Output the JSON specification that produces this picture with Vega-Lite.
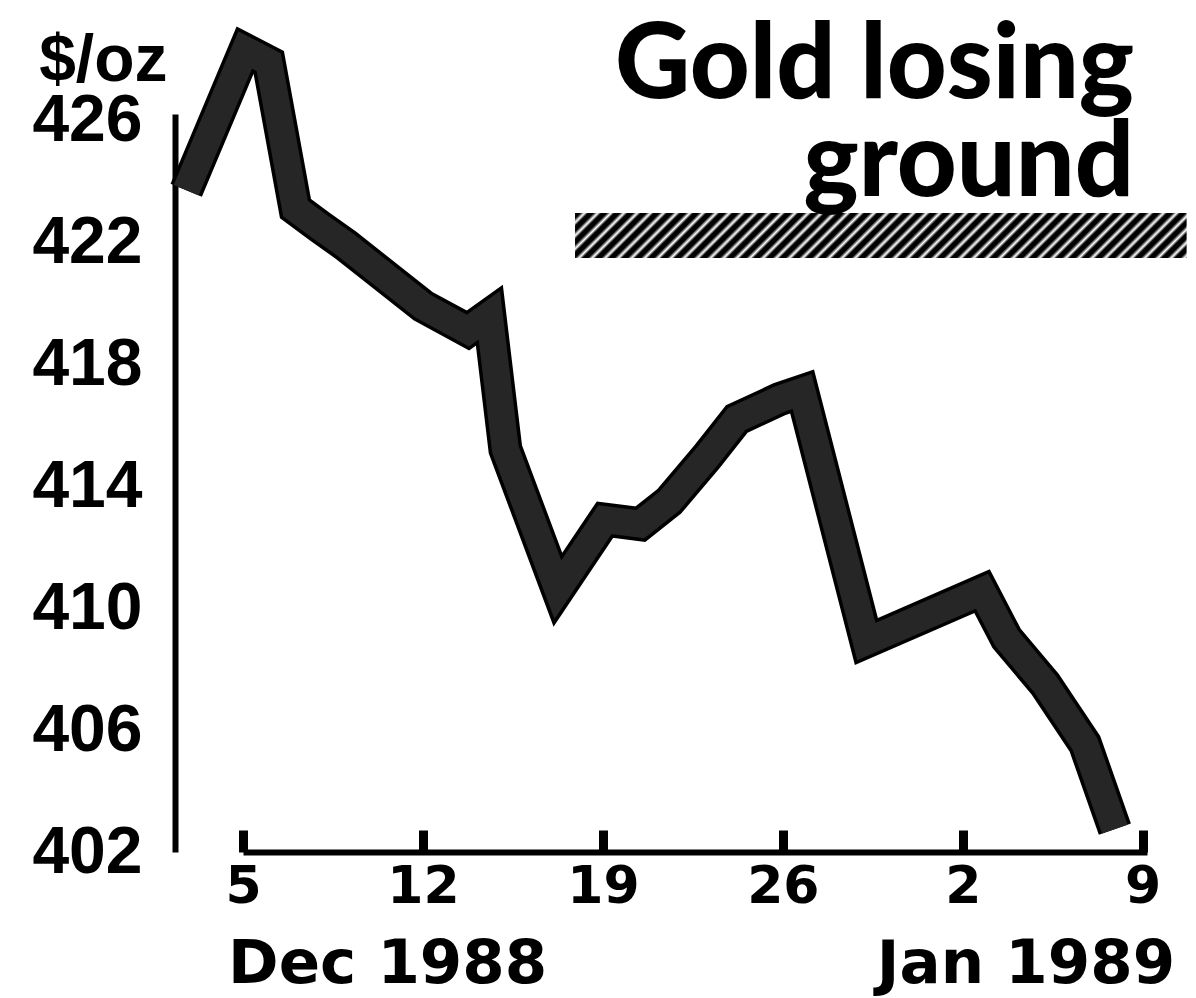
{
  "$schema": "https://vega.github.io/schema/vega-lite/v6.json",
  "width": 904,
  "height": 738,
  "autosize": {"type": "none"},
  "padding": {"left": 243, "top": 114, "right": 49, "bottom": 146},
  "background": "white",
  "config": {"view": {"stroke": null}},
  "datasets": {
    "gold": [
      {"date": "1988-12-02T19:00:00Z", "price": 423.7},
      {"date": "1988-12-05T02:00:00Z", "price": 428.3},
      {"date": "1988-12-06T00:00:00Z", "price": 427.9},
      {"date": "1988-12-07T01:00:00Z", "price": 423.1},
      {"date": "1988-12-08T00:00:00Z", "price": 422.5},
      {"date": "1988-12-09T00:00:00Z", "price": 421.9},
      {"date": "1988-12-12T00:00:00Z", "price": 419.9},
      {"date": "1988-12-13T18:00:00Z", "price": 419.1},
      {"date": "1988-12-14T14:00:00Z", "price": 419.6},
      {"date": "1988-12-15T05:00:00Z", "price": 415.2},
      {"date": "1988-12-17T06:00:00Z", "price": 410.6},
      {"date": "1988-12-19T02:00:00Z", "price": 412.9},
      {"date": "1988-12-20T11:00:00Z", "price": 412.75},
      {"date": "1988-12-21T14:00:00Z", "price": 413.5},
      {"date": "1988-12-23T01:00:00Z", "price": 414.95},
      {"date": "1988-12-24T05:00:00Z", "price": 416.2},
      {"date": "1988-12-25T21:00:00Z", "price": 416.85},
      {"date": "1988-12-26T18:00:00Z", "price": 417.1},
      {"date": "1988-12-29T06:00:00Z", "price": 408.9},
      {"date": "1989-01-02T18:00:00Z", "price": 410.55},
      {"date": "1989-01-03T17:00:00Z", "price": 409.0},
      {"date": "1989-01-05T05:00:00Z", "price": 407.5},
      {"date": "1989-01-06T18:00:00Z", "price": 405.55},
      {"date": "1989-01-07T22:00:00Z", "price": 402.75}
    ],
    "months": [
      {"label": "Dec 1988", "date": "1988-12-10T15:00:00Z", "price": 402},
      {"label": "Jan 1989", "date": "1989-01-04T11:00:00Z", "price": 402}
    ],
    "heading": [
      {"label": "Gold losing", "date": "1989-01-08T16:00:00Z", "price": 426.72},
      {"label": "ground", "date": "1989-01-08T16:00:00Z", "price": 423.5}
    ],
    "band": [
      {"start": "1988-12-17T22:00:00Z", "end": "1989-01-10T17:00:00Z", "high": 422.95, "low": 421.48}
    ]
  },
  "layer": [
    {
      "data": {"name": "band"},
      "mark": {
        "type": "rect",
        "color": {
          "gradient": "linear",
          "x1": 0, "y1": 0, "x2": 1.07, "y2": 0.0787,
          "stops": [
            {"offset": 0.00, "color": "#000"}, {"offset": 0.008, "color": "#000"}, {"offset": 0.0145, "color": "#fff"},
            {"offset": 0.02, "color": "#000"}, {"offset": 0.028, "color": "#000"}, {"offset": 0.0345, "color": "#fff"},
            {"offset": 0.04, "color": "#000"}, {"offset": 0.048, "color": "#000"}, {"offset": 0.0545, "color": "#fff"},
            {"offset": 0.06, "color": "#000"}, {"offset": 0.068, "color": "#000"}, {"offset": 0.0745, "color": "#fff"},
            {"offset": 0.08, "color": "#000"}, {"offset": 0.088, "color": "#000"}, {"offset": 0.0945, "color": "#fff"},
            {"offset": 0.10, "color": "#000"}, {"offset": 0.108, "color": "#000"}, {"offset": 0.1145, "color": "#fff"},
            {"offset": 0.12, "color": "#000"}, {"offset": 0.128, "color": "#000"}, {"offset": 0.1345, "color": "#fff"},
            {"offset": 0.14, "color": "#000"}, {"offset": 0.148, "color": "#000"}, {"offset": 0.1545, "color": "#fff"},
            {"offset": 0.16, "color": "#000"}, {"offset": 0.168, "color": "#000"}, {"offset": 0.1745, "color": "#fff"},
            {"offset": 0.18, "color": "#000"}, {"offset": 0.188, "color": "#000"}, {"offset": 0.1945, "color": "#fff"},
            {"offset": 0.20, "color": "#000"}, {"offset": 0.208, "color": "#000"}, {"offset": 0.2145, "color": "#fff"},
            {"offset": 0.22, "color": "#000"}, {"offset": 0.228, "color": "#000"}, {"offset": 0.2345, "color": "#fff"},
            {"offset": 0.24, "color": "#000"}, {"offset": 0.248, "color": "#000"}, {"offset": 0.2545, "color": "#fff"},
            {"offset": 0.26, "color": "#000"}, {"offset": 0.268, "color": "#000"}, {"offset": 0.2745, "color": "#fff"},
            {"offset": 0.28, "color": "#000"}, {"offset": 0.288, "color": "#000"}, {"offset": 0.2945, "color": "#fff"},
            {"offset": 0.30, "color": "#000"}, {"offset": 0.308, "color": "#000"}, {"offset": 0.3145, "color": "#fff"},
            {"offset": 0.32, "color": "#000"}, {"offset": 0.328, "color": "#000"}, {"offset": 0.3345, "color": "#fff"},
            {"offset": 0.34, "color": "#000"}, {"offset": 0.348, "color": "#000"}, {"offset": 0.3545, "color": "#fff"},
            {"offset": 0.36, "color": "#000"}, {"offset": 0.368, "color": "#000"}, {"offset": 0.3745, "color": "#fff"},
            {"offset": 0.38, "color": "#000"}, {"offset": 0.388, "color": "#000"}, {"offset": 0.3945, "color": "#fff"},
            {"offset": 0.40, "color": "#000"}, {"offset": 0.408, "color": "#000"}, {"offset": 0.4145, "color": "#fff"},
            {"offset": 0.42, "color": "#000"}, {"offset": 0.428, "color": "#000"}, {"offset": 0.4345, "color": "#fff"},
            {"offset": 0.44, "color": "#000"}, {"offset": 0.448, "color": "#000"}, {"offset": 0.4545, "color": "#fff"},
            {"offset": 0.46, "color": "#000"}, {"offset": 0.468, "color": "#000"}, {"offset": 0.4745, "color": "#fff"},
            {"offset": 0.48, "color": "#000"}, {"offset": 0.488, "color": "#000"}, {"offset": 0.4945, "color": "#fff"},
            {"offset": 0.50, "color": "#000"}, {"offset": 0.508, "color": "#000"}, {"offset": 0.5145, "color": "#fff"},
            {"offset": 0.52, "color": "#000"}, {"offset": 0.528, "color": "#000"}, {"offset": 0.5345, "color": "#fff"},
            {"offset": 0.54, "color": "#000"}, {"offset": 0.548, "color": "#000"}, {"offset": 0.5545, "color": "#fff"},
            {"offset": 0.56, "color": "#000"}, {"offset": 0.568, "color": "#000"}, {"offset": 0.5745, "color": "#fff"},
            {"offset": 0.58, "color": "#000"}, {"offset": 0.588, "color": "#000"}, {"offset": 0.5945, "color": "#fff"},
            {"offset": 0.60, "color": "#000"}, {"offset": 0.608, "color": "#000"}, {"offset": 0.6145, "color": "#fff"},
            {"offset": 0.62, "color": "#000"}, {"offset": 0.628, "color": "#000"}, {"offset": 0.6345, "color": "#fff"},
            {"offset": 0.64, "color": "#000"}, {"offset": 0.648, "color": "#000"}, {"offset": 0.6545, "color": "#fff"},
            {"offset": 0.66, "color": "#000"}, {"offset": 0.668, "color": "#000"}, {"offset": 0.6745, "color": "#fff"},
            {"offset": 0.68, "color": "#000"}, {"offset": 0.688, "color": "#000"}, {"offset": 0.6945, "color": "#fff"},
            {"offset": 0.70, "color": "#000"}, {"offset": 0.708, "color": "#000"}, {"offset": 0.7145, "color": "#fff"},
            {"offset": 0.72, "color": "#000"}, {"offset": 0.728, "color": "#000"}, {"offset": 0.7345, "color": "#fff"},
            {"offset": 0.74, "color": "#000"}, {"offset": 0.748, "color": "#000"}, {"offset": 0.7545, "color": "#fff"},
            {"offset": 0.76, "color": "#000"}, {"offset": 0.768, "color": "#000"}, {"offset": 0.7745, "color": "#fff"},
            {"offset": 0.78, "color": "#000"}, {"offset": 0.788, "color": "#000"}, {"offset": 0.7945, "color": "#fff"},
            {"offset": 0.80, "color": "#000"}, {"offset": 0.808, "color": "#000"}, {"offset": 0.8145, "color": "#fff"},
            {"offset": 0.82, "color": "#000"}, {"offset": 0.828, "color": "#000"}, {"offset": 0.8345, "color": "#fff"},
            {"offset": 0.84, "color": "#000"}, {"offset": 0.848, "color": "#000"}, {"offset": 0.8545, "color": "#fff"},
            {"offset": 0.86, "color": "#000"}, {"offset": 0.868, "color": "#000"}, {"offset": 0.8745, "color": "#fff"},
            {"offset": 0.88, "color": "#000"}, {"offset": 0.888, "color": "#000"}, {"offset": 0.8945, "color": "#fff"},
            {"offset": 0.90, "color": "#000"}, {"offset": 0.908, "color": "#000"}, {"offset": 0.9145, "color": "#fff"},
            {"offset": 0.92, "color": "#000"}, {"offset": 0.928, "color": "#000"}, {"offset": 0.9345, "color": "#fff"},
            {"offset": 0.94, "color": "#000"}, {"offset": 0.948, "color": "#000"}, {"offset": 0.9545, "color": "#fff"},
            {"offset": 0.96, "color": "#000"}, {"offset": 0.968, "color": "#000"}, {"offset": 0.9745, "color": "#fff"},
            {"offset": 0.98, "color": "#000"}, {"offset": 0.988, "color": "#000"}, {"offset": 0.9945, "color": "#fff"},
            {"offset": 1.00, "color": "#000"}
          ]
        }
      },
      "encoding": {
        "x": {"field": "start", "type": "temporal"},
        "x2": {"field": "end"},
        "y": {"field": "high", "type": "quantitative"},
        "y2": {"field": "low"}
      }
    },
    {
      "data": {"name": "gold"},
      "mark": {"type": "line", "color": "black", "strokeWidth": 34, "strokeCap": "butt", "strokeJoin": "miter", "strokeMiterLimit": 10},
      "encoding": {
        "x": {
          "field": "date",
          "type": "temporal",
          "scale": {
            "type": "utc",
            "domain": [
              {"year": 1988, "month": 12, "date": 5, "utc": true},
              {"year": 1989, "month": 1, "date": 9, "hours": 4, "utc": true}
            ]
          },
          "axis": {
            "title": null,
            "grid": false,
            "values": [
              {"year": 1988, "month": 12, "date": 5, "utc": true},
              {"year": 1988, "month": 12, "date": 12, "utc": true},
              {"year": 1988, "month": 12, "date": 19, "utc": true},
              {"year": 1988, "month": 12, "date": 26, "utc": true},
              {"year": 1989, "month": 1, "date": 2, "utc": true},
              {"year": 1989, "month": 1, "date": 9, "utc": true}
            ],
            "labelExpr": "utcFormat(datum.value, '%-d')",
            "domainColor": "black",
            "domainWidth": 6,
            "tickColor": "black",
            "tickWidth": 9,
            "tickSize": -22,
            "labelFont": "DejaVu Sans",
            "labelFontWeight": "bold",
            "labelFontSize": 52,
            "labelColor": "black",
            "labelPadding": 31,
            "labelFlush": false,
            "labelOverlap": false
          }
        },
        "y": {
          "field": "price",
          "type": "quantitative",
          "scale": {"domain": [402, 426.2], "nice": false, "zero": false},
          "axis": {
            "values": [402, 406, 410, 414, 418, 422, 426],
            "offset": 68,
            "grid": false,
            "ticks": false,
            "domainColor": "black",
            "domainWidth": 6,
            "labelFont": "Liberation Sans",
            "labelFontWeight": "bold",
            "labelFontSize": 66,
            "labelColor": "black",
            "labelPadding": 33,
            "labelFlush": false,
            "labelOverlap": false,
            "title": "$/oz",
            "titleAngle": 0,
            "titleAlign": "right",
            "titleBaseline": "alphabetic",
            "titleX": -8,
            "titleY": -34,
            "titleFont": "Liberation Sans",
            "titleFontWeight": "bold",
            "titleFontSize": 66,
            "titleColor": "black"
          }
        }
      }
    },
    {
      "data": {"name": "gold"},
      "mark": {"type": "line", "color": "#262626", "strokeWidth": 27, "strokeCap": "butt", "strokeJoin": "miter", "strokeMiterLimit": 10},
      "encoding": {
        "x": {"field": "date", "type": "temporal"},
        "y": {"field": "price", "type": "quantitative"}
      }
    },
    {
      "data": {"name": "months"},
      "mark": {"type": "text", "font": "DejaVu Sans", "fontWeight": "bold", "fontSize": 61, "baseline": "alphabetic", "align": "center", "dy": 131, "color": "black"},
      "encoding": {
        "x": {"field": "date", "type": "temporal"},
        "y": {"field": "price", "type": "quantitative"},
        "text": {"field": "label"}
      }
    },
    {
      "data": {"name": "heading"},
      "mark": {"type": "text", "font": "Lato", "fontWeight": 900, "fontSize": 104, "baseline": "alphabetic", "align": "right", "color": "black"},
      "encoding": {
        "x": {"field": "date", "type": "temporal"},
        "y": {"field": "price", "type": "quantitative"},
        "text": {"field": "label"}
      }
    }
  ]
}
